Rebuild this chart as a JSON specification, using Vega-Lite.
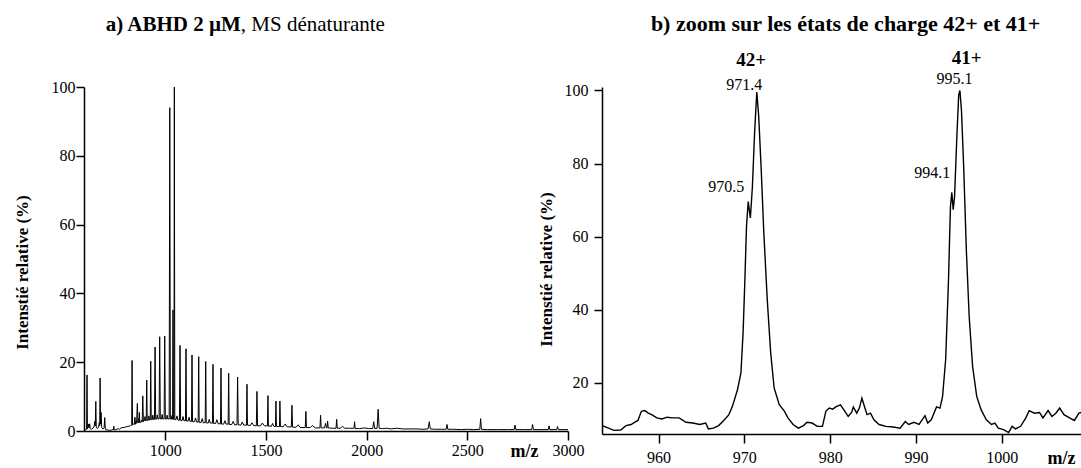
{
  "$schema": "https://vega.github.io/schema/vega-lite/v6.json",
  "autosize": {"type": "pad"},
  "padding": {"left": 13, "top": 12, "right": 0, "bottom": 0},
  "background": "white",
  "spacing": 34,
  "bounds": "flush",
  "config": {
    "font": "Liberation Serif, Times New Roman, DejaVu Serif, serif",
    "view": {"stroke": null},
    "text": {"font": "Liberation Serif, Times New Roman, DejaVu Serif, serif"},
    "axis": {"domainColor": "#000", "domainWidth": 1.5, "tickColor": "#000", "tickWidth": 1.5, "labelColor": "#000", "labelFont": "Liberation Serif, Times New Roman, DejaVu Serif, serif", "labelFontSize": 16, "titleFont": "Liberation Serif, Times New Roman, DejaVu Serif, serif", "titleFontSize": 17, "titleFontWeight": "bold", "titleColor": "#000", "grid": false, "labelFlush": false, "labelOverlap": false, "format": "d"}
  },
  "datasets": {
    "full": [
      {"mz":596,"i":0.3},{"mz":604,"i":0.4},{"mz":609,"i":0.5},{"mz":611,"i":16.3},{"mz":613,"i":0.6},{"mz":617,"i":1.2},{"mz":619,"i":2.0},{"mz":621,"i":0.9},{"mz":624,"i":2.1},{"mz":627,"i":0.7},{"mz":633,"i":0.5},{"mz":640,"i":0.8},{"mz":646,"i":1.2},{"mz":650,"i":2.8},{"mz":652,"i":1.5},{"mz":654.6,"i":8.6},{"mz":657,"i":1.2},{"mz":662,"i":0.7},{"mz":668,"i":1.0},{"mz":672,"i":2.4},{"mz":674,"i":1.5},{"mz":676,"i":15.4},{"mz":678,"i":2.0},{"mz":681,"i":5.4},{"mz":684,"i":1.0},{"mz":690,"i":0.6},{"mz":696,"i":0.9},{"mz":699,"i":3.9},{"mz":702,"i":0.5},{"mz":710,"i":0.3},{"mz":722,"i":0.2},{"mz":734,"i":0.3},{"mz":742,"i":0.4},{"mz":744,"i":1.4},{"mz":746,"i":0.3},{"mz":756,"i":0.4},{"mz":766,"i":0.7},{"mz":772,"i":0.5},{"mz":780,"i":0.9},{"mz":790,"i":1.0},{"mz":800,"i":1.1},{"mz":810,"i":1.3},{"mz":820,"i":1.4},{"mz":828,"i":1.6},{"mz":833,"i":1.7},{"mz":834.7,"i":20.5},{"mz":837,"i":1.8},{"mz":842,"i":2.0},{"mz":846,"i":1.9},{"mz":849,"i":4.0},{"mz":852,"i":2.0},{"mz":856,"i":2.2},{"mz":858,"i":3.5},{"mz":861,"i":8.0},{"mz":864,"i":2.3},{"mz":867,"i":3.6},{"mz":869,"i":2.4},{"mz":871,"i":5.4},{"mz":873,"i":2.5},{"mz":878,"i":2.5},{"mz":882,"i":3.2},{"mz":885,"i":2.6},{"mz":888,"i":10.2},{"mz":891,"i":2.7},{"mz":896,"i":3.0},{"mz":899,"i":4.2},{"mz":902,"i":3.0},{"mz":905,"i":3.0},{"mz":907.7,"i":14.8},{"mz":910,"i":3.0},{"mz":915,"i":3.1},{"mz":918,"i":4.4},{"mz":921,"i":3.2},{"mz":925,"i":3.2},{"mz":927.5,"i":20.3},{"mz":930,"i":3.3},{"mz":935,"i":3.3},{"mz":938,"i":4.6},{"mz":941,"i":3.3},{"mz":946,"i":3.4},{"mz":949,"i":24.4},{"mz":952,"i":3.4},{"mz":957,"i":3.5},{"mz":960,"i":4.7},{"mz":963,"i":3.5},{"mz":969,"i":3.5},{"mz":972,"i":27.4},{"mz":975,"i":3.5},{"mz":981,"i":3.5},{"mz":984,"i":4.8},{"mz":987,"i":3.5},{"mz":994,"i":3.5},{"mz":997,"i":27.6},{"mz":1000,"i":3.5},{"mz":1006,"i":3.5},{"mz":1009,"i":4.6},{"mz":1012,"i":3.5},{"mz":1019,"i":3.5},{"mz":1022,"i":94},{"mz":1025,"i":3.5},{"mz":1030,"i":3.4},{"mz":1033,"i":4.5},{"mz":1036,"i":3.4},{"mz":1038,"i":35.2},{"mz":1040,"i":3.4},{"mz":1043,"i":3.4},{"mz":1044.7,"i":100},{"mz":1047,"i":3.3},{"mz":1053,"i":3.3},{"mz":1058,"i":4.4},{"mz":1062,"i":3.2},{"mz":1070,"i":3.1},{"mz":1073,"i":24.9},{"mz":1076,"i":3.1},{"mz":1083,"i":3.0},{"mz":1088,"i":4.2},{"mz":1092,"i":3.0},{"mz":1100,"i":3.0},{"mz":1102.7,"i":23.9},{"mz":1105,"i":2.9},{"mz":1113,"i":2.9},{"mz":1118,"i":4.0},{"mz":1122,"i":2.8},{"mz":1130,"i":2.8},{"mz":1132.5,"i":22.1},{"mz":1135,"i":2.7},{"mz":1145,"i":2.7},{"mz":1150,"i":3.8},{"mz":1155,"i":2.6},{"mz":1163,"i":2.6},{"mz":1165.8,"i":21.6},{"mz":1168,"i":2.5},{"mz":1178,"i":2.5},{"mz":1183,"i":3.6},{"mz":1188,"i":2.4},{"mz":1198,"i":2.4},{"mz":1200.5,"i":20.2},{"mz":1203,"i":2.4},{"mz":1213,"i":2.3},{"mz":1218,"i":3.4},{"mz":1223,"i":2.3},{"mz":1234,"i":2.3},{"mz":1236.7,"i":19.4},{"mz":1239,"i":2.2},{"mz":1250,"i":2.2},{"mz":1256,"i":3.3},{"mz":1262,"i":2.1},{"mz":1274,"i":2.1},{"mz":1276.4,"i":18.3},{"mz":1279,"i":2.0},{"mz":1290,"i":2.0},{"mz":1296,"i":3.0},{"mz":1302,"i":2.0},{"mz":1312,"i":2.0},{"mz":1314.6,"i":16.8},{"mz":1317,"i":1.9},{"mz":1330,"i":1.9},{"mz":1337,"i":2.8},{"mz":1344,"i":1.8},{"mz":1356,"i":1.8},{"mz":1359,"i":15.7},{"mz":1362,"i":1.8},{"mz":1375,"i":1.7},{"mz":1382,"i":2.6},{"mz":1390,"i":1.7},{"mz":1403,"i":1.7},{"mz":1405.5,"i":13.6},{"mz":1408,"i":1.7},{"mz":1422,"i":1.6},{"mz":1430,"i":2.4},{"mz":1438,"i":1.6},{"mz":1452,"i":1.5},{"mz":1455,"i":11.5},{"mz":1458,"i":1.5},{"mz":1472,"i":1.5},{"mz":1482,"i":2.3},{"mz":1492,"i":1.5},{"mz":1507,"i":1.5},{"mz":1509.7,"i":10.3},{"mz":1512,"i":1.4},{"mz":1528,"i":1.4},{"mz":1532,"i":2.2},{"mz":1540,"i":1.3},{"mz":1547,"i":1.3},{"mz":1549.4,"i":8.7},{"mz":1552,"i":1.3},{"mz":1560,"i":1.3},{"mz":1567,"i":1.3},{"mz":1569,"i":8.7},{"mz":1572,"i":1.3},{"mz":1585,"i":1.2},{"mz":1595,"i":2.0},{"mz":1605,"i":1.2},{"mz":1626,"i":1.2},{"mz":1628.8,"i":7.5},{"mz":1632,"i":1.1},{"mz":1650,"i":1.1},{"mz":1660,"i":1.8},{"mz":1670,"i":1.0},{"mz":1695,"i":1.0},{"mz":1698,"i":5.7},{"mz":1701,"i":1.0},{"mz":1720,"i":1.0},{"mz":1730,"i":1.6},{"mz":1745,"i":0.9},{"mz":1768,"i":0.9},{"mz":1771,"i":4.6},{"mz":1774,"i":0.9},{"mz":1790,"i":0.9},{"mz":1796,"i":2.2},{"mz":1800,"i":0.9},{"mz":1803,"i":0.9},{"mz":1806,"i":2.9},{"mz":1809,"i":0.9},{"mz":1830,"i":0.8},{"mz":1848,"i":0.8},{"mz":1851,"i":3.4},{"mz":1854,"i":0.8},{"mz":1870,"i":0.8},{"mz":1880,"i":1.4},{"mz":1890,"i":0.8},{"mz":1910,"i":0.8},{"mz":1937,"i":0.8},{"mz":1940,"i":2.7},{"mz":1943,"i":0.7},{"mz":1965,"i":0.7},{"mz":1990,"i":0.9},{"mz":2010,"i":0.7},{"mz":2030,"i":0.7},{"mz":2035,"i":2.7},{"mz":2040,"i":0.7},{"mz":2052,"i":0.8},{"mz":2057,"i":6.3},{"mz":2062,"i":0.8},{"mz":2080,"i":0.7},{"mz":2100,"i":0.8},{"mz":2120,"i":0.6},{"mz":2150,"i":0.8},{"mz":2180,"i":0.6},{"mz":2210,"i":0.6},{"mz":2250,"i":0.6},{"mz":2280,"i":0.5},{"mz":2305,"i":0.6},{"mz":2311,"i":2.7},{"mz":2316,"i":0.6},{"mz":2340,"i":0.5},{"mz":2370,"i":0.5},{"mz":2395,"i":0.5},{"mz":2399,"i":1.9},{"mz":2403,"i":0.5},{"mz":2430,"i":0.5},{"mz":2470,"i":0.4},{"mz":2500,"i":0.5},{"mz":2530,"i":0.4},{"mz":2562,"i":0.5},{"mz":2566,"i":3.6},{"mz":2570,"i":0.5},{"mz":2600,"i":0.4},{"mz":2650,"i":0.4},{"mz":2700,"i":0.4},{"mz":2733,"i":0.4},{"mz":2737,"i":1.7},{"mz":2741,"i":0.4},{"mz":2780,"i":0.4},{"mz":2820,"i":0.4},{"mz":2824,"i":1.9},{"mz":2828,"i":0.4},{"mz":2870,"i":0.4},{"mz":2902,"i":0.4},{"mz":2906,"i":1.5},{"mz":2910,"i":0.4},{"mz":2944,"i":0.4},{"mz":2948,"i":1.3},{"mz":2952,"i":0.4},{"mz":2980,"i":0.4},{"mz":3000,"i":0.4}
    ],
    "zoom": [
      {"mz":953.45,"i":8.3},{"mz":954.8,"i":7.0},{"mz":955.6,"i":7.1},{"mz":956.2,"i":8.3},{"mz":956.8,"i":8.6},{"mz":957.2,"i":9.2},{"mz":957.6,"i":9.7},{"mz":958.0,"i":12.2},{"mz":958.4,"i":12.4},{"mz":958.8,"i":11.7},{"mz":959.2,"i":11.3},{"mz":959.8,"i":10.4},{"mz":960.4,"i":10.1},{"mz":961.0,"i":10.6},{"mz":961.6,"i":10.4},{"mz":962.4,"i":10.4},{"mz":963.2,"i":9.2},{"mz":964.0,"i":9.0},{"mz":964.8,"i":8.6},{"mz":965.5,"i":9.0},{"mz":965.8,"i":7.4},{"mz":966.4,"i":7.6},{"mz":967.0,"i":8.3},{"mz":967.6,"i":9.7},{"mz":968.2,"i":11.3},{"mz":968.6,"i":13.5},{"mz":969.2,"i":18.1},{"mz":969.6,"i":22.7},{"mz":969.85,"i":33.6},{"mz":970.05,"i":47.3},{"mz":970.25,"i":62.8},{"mz":970.45,"i":69.6},{"mz":970.7,"i":65.1},{"mz":970.94,"i":73.7},{"mz":971.19,"i":88.3},{"mz":971.45,"i":99.6},{"mz":971.67,"i":93.0},{"mz":971.95,"i":79.2},{"mz":972.27,"i":61.0},{"mz":972.67,"i":42.7},{"mz":973.07,"i":28.2},{"mz":973.47,"i":18.6},{"mz":974.07,"i":14.0},{"mz":974.68,"i":12.2},{"mz":975.08,"i":10.4},{"mz":975.68,"i":8.6},{"mz":976.29,"i":7.6},{"mz":976.9,"i":8.3},{"mz":977.3,"i":9.2},{"mz":977.9,"i":9.0},{"mz":978.5,"i":8.1},{"mz":979.1,"i":8.1},{"mz":979.5,"i":12.2},{"mz":979.9,"i":13.1},{"mz":980.3,"i":12.8},{"mz":980.7,"i":13.5},{"mz":981.2,"i":14.0},{"mz":981.6,"i":12.6},{"mz":982.1,"i":10.8},{"mz":982.5,"i":11.9},{"mz":982.7,"i":13.4},{"mz":983.1,"i":11.7},{"mz":983.4,"i":13.1},{"mz":983.7,"i":15.8},{"mz":984.05,"i":13.1},{"mz":984.3,"i":11.3},{"mz":984.7,"i":11.7},{"mz":985.1,"i":9.9},{"mz":985.7,"i":8.6},{"mz":986.5,"i":8.1},{"mz":987.35,"i":7.9},{"mz":988.15,"i":7.6},{"mz":988.75,"i":9.4},{"mz":989.15,"i":8.6},{"mz":989.76,"i":9.2},{"mz":990.36,"i":8.6},{"mz":991.05,"i":11.0},{"mz":991.37,"i":9.0},{"mz":991.78,"i":9.9},{"mz":992.4,"i":13.4},{"mz":992.8,"i":13.1},{"mz":993.1,"i":16.3},{"mz":993.46,"i":26.3},{"mz":993.78,"i":47.3},{"mz":994.02,"i":68.3},{"mz":994.18,"i":72.1},{"mz":994.34,"i":67.4},{"mz":994.5,"i":71.0},{"mz":994.75,"i":86.5},{"mz":994.98,"i":98.8},{"mz":995.12,"i":100},{"mz":995.3,"i":94.7},{"mz":995.56,"i":79.2},{"mz":995.87,"i":56.4},{"mz":996.2,"i":38.2},{"mz":996.6,"i":24.5},{"mz":997.08,"i":16.3},{"mz":997.6,"i":12.6},{"mz":998.2,"i":9.9},{"mz":998.8,"i":8.6},{"mz":999.2,"i":9.0},{"mz":999.6,"i":7.6},{"mz":1000.2,"i":7.2},{"mz":1000.8,"i":6.4},{"mz":1001.2,"i":8.1},{"mz":1001.6,"i":7.4},{"mz":1002.2,"i":8.1},{"mz":1002.8,"i":10.4},{"mz":1003.2,"i":12.4},{"mz":1003.8,"i":11.7},{"mz":1004.4,"i":11.9},{"mz":1004.8,"i":10.4},{"mz":1005.4,"i":12.4},{"mz":1005.85,"i":10.8},{"mz":1006.3,"i":11.7},{"mz":1006.75,"i":13.1},{"mz":1007.25,"i":11.3},{"mz":1007.9,"i":10.4},{"mz":1008.46,"i":9.7},{"mz":1009.0,"i":11.7},{"mz":1009.35,"i":12.0}
    ],
    "charges": [
      {"mz":970.8,"i":108.4,"t":"42+"},
      {"mz":995.9,"i":108.9,"t":"41+"}
    ],
    "peaks": [
      {"mz":970.0,"i":101.6,"t":"971.4"},
      {"mz":994.5,"i":103.1,"t":"995.1"},
      {"mz":967.9,"i":73.7,"t":"970.5"},
      {"mz":991.9,"i":77.4,"t":"994.1"}
    ],
    "titleA1": [{"mz":1375,"i":116.4,"t":"a) ABHD 2 µM"}],
    "titleA2": [{"mz":1375,"i":116.4,"t":", MS dénaturante"}],
    "titleB": [{"mz":981.8,"i":116.3,"t":"b) zoom sur les états de charge 42+ et 41+"}]
  },
  "hconcat": [
    {
      "width": 484,
      "height": 344,
      "layer": [
        {
          "data": {"name": "full"},
          "mark": {"type": "line", "color": "#000", "strokeWidth": 1},
          "encoding": {
            "x": {"field": "mz", "type": "quantitative", "scale": {"domain": [596, 3000], "nice": false, "zero": false},
              "axis": {"values": [1000, 1500, 2000, 2500, 3000], "tickSize": 9, "labelPadding": 2, "title": "m/z", "titleFontSize": 18, "titleX": 440, "titleY": 25, "titleAlign": "center", "titleBaseline": "alphabetic"}},
            "y": {"field": "i", "type": "quantitative", "scale": {"domain": [0, 100], "nice": false},
              "axis": {"values": [0, 20, 40, 60, 80, 100], "tickSize": 8, "labelPadding": 1, "title": "Intenstié relative (%)", "titleX": -62, "titleY": 185, "titleAlign": "center", "titleBaseline": "middle", "titleAngle": -90}}
          }
        },
        {
          "data": {"name": "titleA1"},
          "mark": {"type": "text", "align": "right", "baseline": "alphabetic", "fontSize": 21, "fontWeight": "bold", "color": "#000"},
          "encoding": {"x": {"field": "mz", "type": "quantitative"}, "y": {"field": "i", "type": "quantitative"}, "text": {"field": "t"}}
        },
        {
          "data": {"name": "titleA2"},
          "mark": {"type": "text", "align": "left", "baseline": "alphabetic", "fontSize": 21, "fontWeight": "normal", "color": "#000"},
          "encoding": {"x": {"field": "mz", "type": "quantitative"}, "y": {"field": "i", "type": "quantitative"}, "text": {"field": "t"}}
        }
      ]
    },
    {
      "width": 480,
      "height": 347,
      "layer": [
        {
          "data": {"name": "zoom"},
          "mark": {"type": "line", "color": "#000", "strokeWidth": 1.4},
          "encoding": {
            "x": {"field": "mz", "type": "quantitative", "scale": {"domain": [953.41, 1009.35], "nice": false, "zero": false},
              "axis": {"values": [960, 970, 980, 990, 1000], "tickSize": 9, "labelPadding": 6, "title": "m/z", "titleFontSize": 18, "titleX": 459, "titleY": 29, "titleAlign": "center", "titleBaseline": "alphabetic"}},
            "y": {"field": "i", "type": "quantitative", "scale": {"domain": [6, 100.95], "nice": false, "zero": false},
              "axis": {"values": [20, 40, 60, 80, 100], "tickSize": 8, "labelPadding": 6, "title": "Intenstié relative (%)", "titleX": -56, "titleY": 182, "titleAlign": "center", "titleBaseline": "middle", "titleAngle": -90}}
          }
        },
        {
          "data": {"name": "charges"},
          "mark": {"type": "text", "align": "center", "baseline": "middle", "fontSize": 19, "fontWeight": "bold", "color": "#000"},
          "encoding": {"x": {"field": "mz", "type": "quantitative"}, "y": {"field": "i", "type": "quantitative"}, "text": {"field": "t"}}
        },
        {
          "data": {"name": "peaks"},
          "mark": {"type": "text", "align": "center", "baseline": "middle", "fontSize": 16, "color": "#000"},
          "encoding": {"x": {"field": "mz", "type": "quantitative"}, "y": {"field": "i", "type": "quantitative"}, "text": {"field": "t"}}
        },
        {
          "data": {"name": "titleB"},
          "mark": {"type": "text", "align": "center", "baseline": "alphabetic", "fontSize": 22, "fontWeight": "bold", "color": "#000"},
          "encoding": {"x": {"field": "mz", "type": "quantitative"}, "y": {"field": "i", "type": "quantitative"}, "text": {"field": "t"}}
        }
      ]
    }
  ]
}
